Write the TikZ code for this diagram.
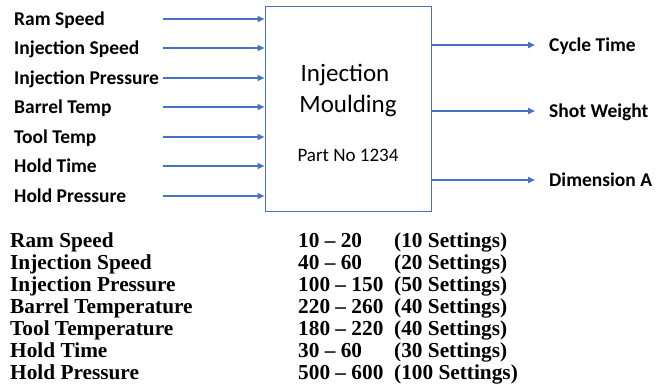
\documentclass[tikz,border=0pt]{standalone}
\usepackage{fontspec}
\setmainfont{Carlito}
\newfontfamily\tnr{Liberation Serif}
\usetikzlibrary{arrows.meta}
\definecolor{flowblue}{HTML}{4472C4}
\begin{document}
\begin{tikzpicture}[x=1pt,y=-1pt,
  flow/.style={draw=flowblue, line width=2pt, -{Triangle[length=7pt,width=6pt]}},
  lbl/.style={anchor=base west, inner sep=0pt, font=\fontsize{19.5}{19.5}\selectfont\bfseries},
  boxtxt/.style={anchor=base, inner sep=0pt},
  tbl/.style={anchor=base west, inner sep=0pt, font=\fontsize{21.3}{21.3}\selectfont\tnr\bfseries},
]
\useasboundingbox (0,0) rectangle (662,386);

% process block
\node[draw=flowblue, line width=1pt, minimum width=166pt, minimum height=205pt, inner sep=0pt] (mold) at (348,108.5) {};
\node[boxtxt, font=\fontsize{25}{25}\selectfont] (title1) at (345,81) {Injection};
\node[boxtxt, font=\fontsize{25}{25}\selectfont] (title2) at (348,112) {Moulding};
\node[boxtxt, font=\fontsize{19}{19}\selectfont] (part) at (348,161) {Part No 1234};

% inputs
\foreach \t/\y [count=\i] in {Ram Speed/19, Injection Speed/48, Injection Pressure/78,
    Barrel Temp/107, Tool Temp/137, Hold Time/166, Hold Pressure/196} {
  \node[lbl] (in\i) at (14,\y+6) {\t};
  \coordinate (src\i) at (163,\y);
  \draw[flow] (src\i) -- (src\i -| mold.west);
}

% outputs
\foreach \t/\y [count=\i] in {Cycle Time/45, Shot Weight/111, Dimension A/180} {
  \coordinate (dst\i) at (535,\y);
  \draw[flow] (dst\i -| mold.east) -- (dst\i);
  \node[lbl] (out\i) at (549,\y+6.5) {\t};
}

% settings table
\foreach \n/\r/\s [count=\i] in {
    Ram Speed/10 – 20/(10 Settings),
    Injection Speed/40 – 60/(20 Settings),
    Injection Pressure/100 – 150/(50 Settings),
    Barrel Temperature/220 – 260/(40 Settings),
    Tool Temperature/180 – 220/(40 Settings),
    Hold Time/30 – 60/(30 Settings),
    Hold Pressure/500 – 600/(100 Settings)} {
  \node[tbl] (name\i) at (10,247+22.1*\i-22.1) {\n};
  \node[tbl] (range\i) at (298,247+22.1*\i-22.1) {\r};
  \node[tbl] (count\i) at (394,247+22.1*\i-22.1) {\s};
}
\end{tikzpicture}
\end{document}
